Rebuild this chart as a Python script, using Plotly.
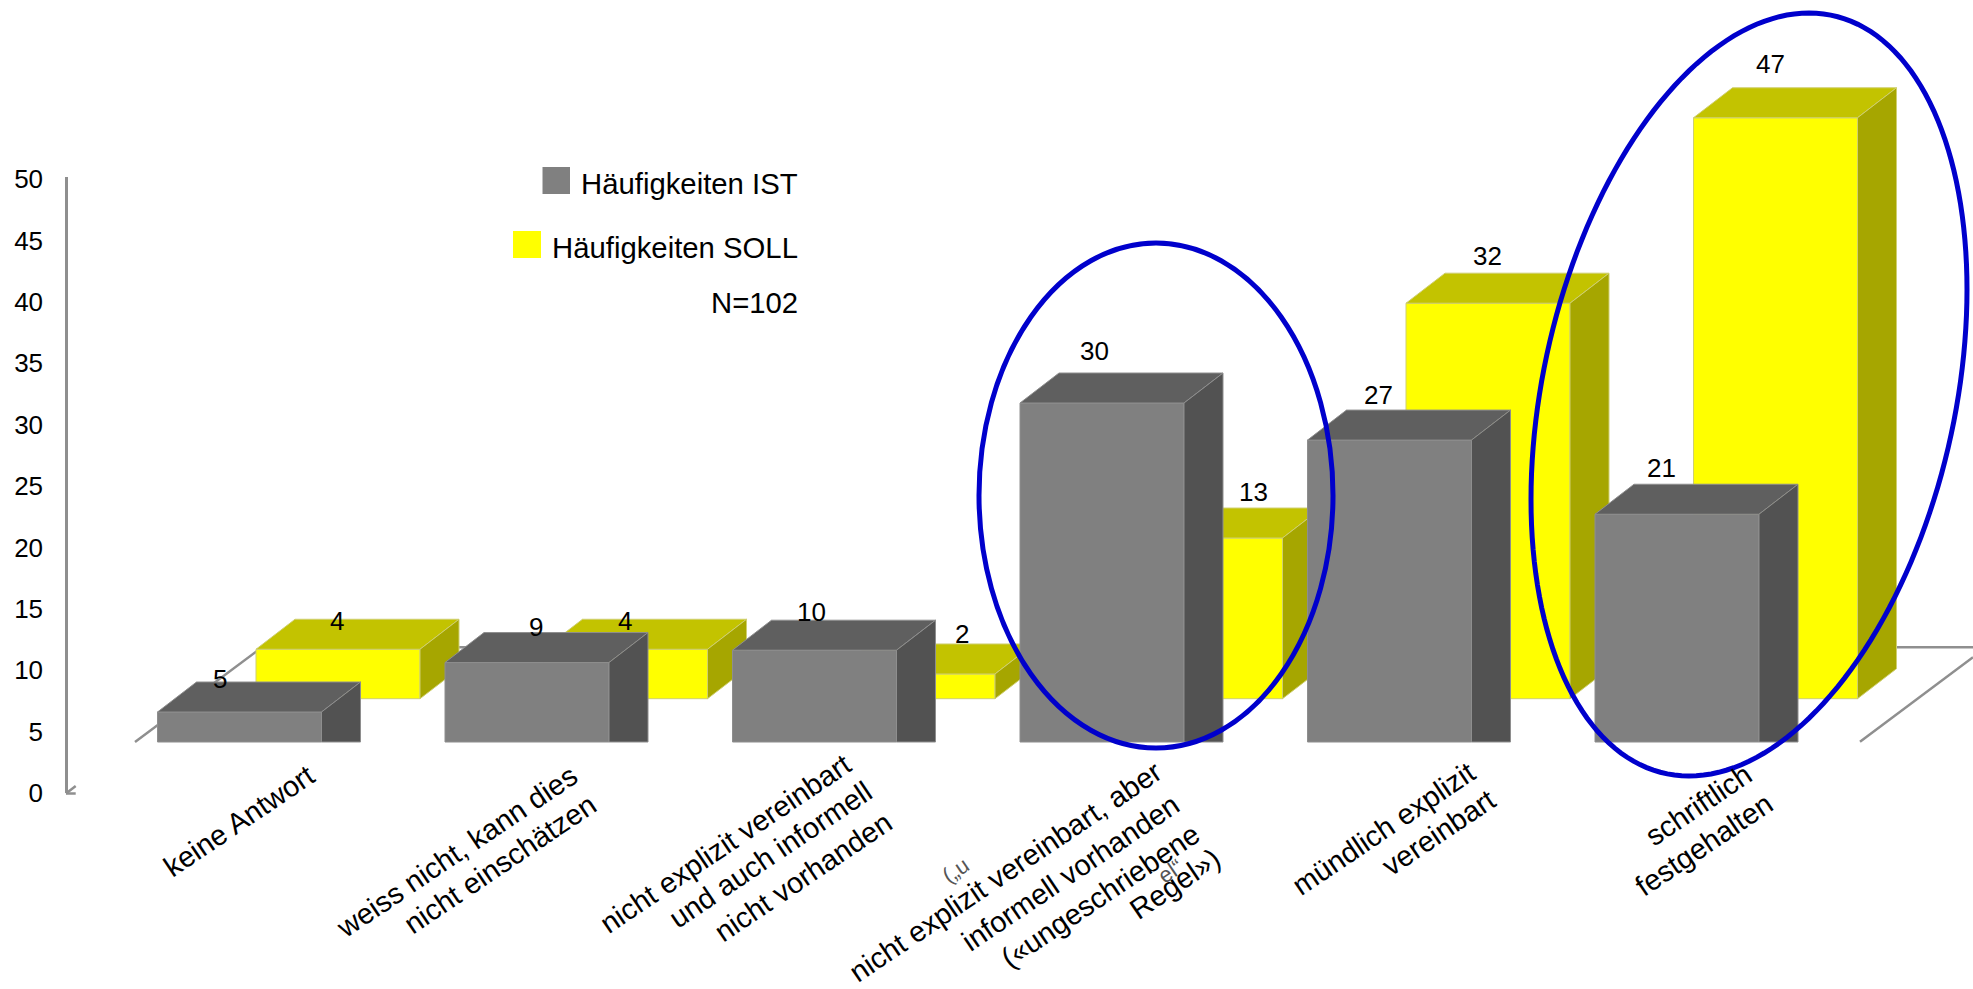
import numpy as np
import plotly.graph_objects as go

W, H = 1973, 989

CATEGORIES = [
    ["keine Antwort"],
    ["weiss nicht, kann dies", "nicht einschätzen"],
    ["nicht explizit vereinbart", "und auch informell", "nicht vorhanden"],
    ["nicht explizit vereinbart, aber", "informell vorhanden", "(«ungeschriebene", "Regel»)"],
    ["mündlich explizit", "vereinbart"],
    ["schriftlich", "festgehalten"],
]
IST = [5, 9, 10, 30, 27, 21]
SOLL = [4, 4, 2, 13, 32, 47]
TICKS = list(range(0, 55, 5))

# Pixel layout of the pseudo-3D scene
CAT_ORIGIN_PX, CAT_STEP_PX = 239.5, 287.5
BAR_W_PX, DEPTH_X_PX, DEPTH_Y_PX = 164.0, 39.0, 30.0
UNIT_PX = 12.36            # bar planes: pixels per value unit
AXIS_UNIT_PX = 12.28       # printed scale: pixels per value unit
IST_ZERO_PX, SOLL_ZERO_PX, AXIS_ZERO_PX = 773.8, 698.7, 793.0
AXIS_TOP_PX = 177.0
AXIS_X_PX = 66.0
SOLL_SHIFT_PX = 98.5       # the SOLL row stands further back and to the right
IST_FLOOR = (IST_ZERO_PX - 742.0) / UNIT_PX   # IST bars are cut off at the floor edge

GREY_FACES = dict(front="#808080", top="#5F5F5F", side="#525252", edge="#8E8E8E")
YELLOW_FACES = dict(front="#FFFF00", top="#C3C300", side="#A6A600", edge="#CFCF70")

# Offsets (px) of each value label from the bar's upper front-left corner
IST_LABEL_SHIFT = [(62.8, 33), (90.7, 35.6), (78.5, 38), (74.8, 52), (71, 45), (66, 46)]
SOLL_LABEL_SHIFT = [(81, 28.6), (81, 28.6), (130.7, 39.7), (134.8, 46), (81, 47), (76.5, 53.5)]

# Centre points (px) of every line of the slanted category captions
CAPTION_CENTRES = [
    [(239, 821)],
    [(456, 851.5), (500, 864)],
    [(725, 844), (770, 855), (803, 877)],
    [(1005, 872), (1070, 872.5), (1100, 895.5), (1174.5, 883.5)],
    [(1383, 828.5), (1438, 832.5)],
    [(1698.5, 805), (1703.5, 845)],
]
CAPTION_ANGLE = -34

FONT = "Liberation Sans"
AXIS_GREY = "#8F8F8F"
RING_BLUE = "#0000CC"


def px(x):
    return x / W


def py(y):
    return 1 - y / H


def faces(values, base, shift_px, flat_side):
    """Outline the three visible faces of every bar as None-separated polygons."""
    half = BAR_W_PX / CAT_STEP_PX / 2
    shift = shift_px / CAT_STEP_PX
    dx = DEPTH_X_PX / CAT_STEP_PX
    dy = DEPTH_Y_PX / UNIT_PX
    out = {"front": ([], []), "top": ([], []), "side": ([], [])}

    def add(name, xs, ys):
        out[name][0].extend(list(xs) + [None])
        out[name][1].extend(list(ys) + [None])

    for i, v in enumerate(values):
        l, r = i + shift - half, i + shift + half
        side_base = base if flat_side else base + dy
        add("front", [l, r, r, l, l], [base, base, v, v, base])
        add("top", [l, r, r + dx, l + dx, l], [v, v, v + dy, v + dy, v])
        add("side", [r, r + dx, r + dx, r, r], [base, side_base, v + dy, v, base])
    return out


def add_series(fig, name, values, base, shift_px, flat_side, colours, yaxis):
    polys = faces(values, base, shift_px, flat_side)
    for face in ("front", "top", "side"):
        xs, ys = polys[face]
        fig.add_trace(go.Scatter(
            x=xs, y=ys, name=name, mode="lines", fill="toself",
            fillcolor=colours[face],
            line=dict(color=colours["edge"], width=1),
            yaxis=yaxis, hoverinfo="name", showlegend=False,
        ))


fig = go.Figure()

# The visible value axis lives on the first subplot
fig.add_trace(go.Scatter(x=[None], y=[None], showlegend=False, hoverinfo="skip"))
add_series(fig, "Häufigkeiten SOLL", SOLL, 0, SOLL_SHIFT_PX, False, YELLOW_FACES, "y2")
add_series(fig, "Häufigkeiten IST", IST, IST_FLOOR, 0, True, GREY_FACES, "y3")

annotations = []


def value_labels(values, shifts, shift_px, yref):
    for i, (v, (dx, dy)) in enumerate(zip(values, shifts)):
        left = i + (shift_px - BAR_W_PX / 2) / CAT_STEP_PX
        annotations.append(dict(
            x=left, y=v, xref="x", yref=yref, text=str(v), showarrow=False,
            xanchor="center", yanchor="middle", xshift=dx, yshift=dy,
            font=dict(family=FONT, size=26, color="black"),
        ))


value_labels(SOLL, SOLL_LABEL_SHIFT, SOLL_SHIFT_PX, "y2")
value_labels(IST, IST_LABEL_SHIFT, 0, "y3")

# Scraps of an older caption line showing behind the fourth caption
for text, (cx, cy) in [("(„u", (955, 870)), ("el“", (1170, 871))]:
    annotations.append(dict(
        x=px(cx), y=py(cy), xref="paper", yref="paper", text=text, showarrow=False,
        xanchor="center", yanchor="middle",
        textangle=CAPTION_ANGLE, font=dict(family=FONT, size=22, color="#555555"),
    ))

for lines, centres in zip(CATEGORIES, CAPTION_CENTRES):
    for text, (cx, cy) in zip(lines, centres):
        annotations.append(dict(
            x=px(cx), y=py(cy), xref="paper", yref="paper", text=text, showarrow=False,
            xanchor="center", yanchor="middle", textangle=CAPTION_ANGLE,
            font=dict(family=FONT, size=29, color="black"),
        ))

# Legend block, right-aligned against a common edge
for text, cy in [("Häufigkeiten IST", 183), ("Häufigkeiten SOLL", 248), ("N=102", 303)]:
    annotations.append(dict(
        x=px(799.5), y=py(cy), xref="paper", yref="paper", text=text, showarrow=False,
        xanchor="right", yanchor="middle",
        font=dict(family=FONT, size=29.3, color="black"),
    ))

shapes = []
for x0, x1, y0, y1, colour in [
    (542.5, 570, 167, 194, GREY_FACES["front"]),
    (513, 541, 231, 258, YELLOW_FACES["front"]),
]:
    shapes.append(dict(type="rect", xref="paper", yref="paper", layer="above",
                       x0=px(x0), x1=px(x1), y0=py(y0), y1=py(y1),
                       fillcolor=colour, line=dict(width=0)))

# Floor outline and the foot of the value axis, behind the bars
for x0, y0, x1, y1 in [
    (135, 742, 262, 647.3),
    (262, 647.3, 1973, 647.3),
    (1860, 741.7, 1973, 657.3),
    (AXIS_X_PX, 793.5, 75.7, 786),
    (AXIS_X_PX, 793.5, 75.7, 793.5),
]:
    shapes.append(dict(type="line", xref="paper", yref="paper", layer="below",
                       x0=px(x0), y0=py(y0), x1=px(x1), y1=py(y1),
                       line=dict(color=AXIS_GREY, width=2.5)))

# Highlight rings around the "informell" and "schriftlich" groups
shapes.append(dict(type="circle", xref="paper", yref="paper", layer="above",
                   x0=px(979), x1=px(1333), y0=py(243), y1=py(748),
                   line=dict(color=RING_BLUE, width=5)))

ring_cx, ring_cy, ring_w, ring_h, ring_skew = 1749.0, 394.5, 218.0, 381.5, 105.0
t = np.linspace(0, 2 * np.pi, 181)
ring_x = ring_cx + ring_w * np.cos(t)
ring_y = ring_cy - (ring_skew * np.cos(t) + np.sqrt(ring_h**2 - ring_skew**2) * np.sin(t))
path = "M " + " L ".join(f"{px(a):.5f},{py(b):.5f}" for a, b in zip(ring_x, ring_y)) + " Z"
shapes.append(dict(type="path", path=path, xref="paper", yref="paper", layer="above",
                   line=dict(color=RING_BLUE, width=5)))

hidden_y = dict(visible=False, domain=[0, 1], anchor="x", fixedrange=True, automargin=False)

fig.update_layout(
    width=W, height=H,
    margin=dict(l=0, r=0, t=0, b=0, autoexpand=False),
    paper_bgcolor="white", plot_bgcolor="rgba(0,0,0,0)",
    showlegend=False,
    font=dict(family=FONT, color="black"),
    annotations=annotations,
    shapes=shapes,
    xaxis=dict(
        visible=False, domain=[0, 1], fixedrange=True, automargin=False,
        range=[-CAT_ORIGIN_PX / CAT_STEP_PX, (W - CAT_ORIGIN_PX) / CAT_STEP_PX],
    ),
    yaxis=dict(
        domain=[py(AXIS_ZERO_PX), py(AXIS_TOP_PX)],
        range=[0, (AXIS_ZERO_PX - AXIS_TOP_PX) / AXIS_UNIT_PX],
        anchor="free", position=px(AXIS_X_PX), side="left", automargin=False,
        tickmode="array", tickvals=TICKS, ticktext=[str(v) for v in TICKS],
        ticks="", ticklabelstandoff=17,
        showgrid=False, zeroline=False, fixedrange=True,
        showline=True, linecolor=AXIS_GREY, linewidth=2.5,
        tickfont=dict(family=FONT, size=26, color="black"),
    ),
    yaxis2=dict(hidden_y, range=[(SOLL_ZERO_PX - H) / UNIT_PX, SOLL_ZERO_PX / UNIT_PX]),
    yaxis3=dict(hidden_y, range=[(IST_ZERO_PX - H) / UNIT_PX, IST_ZERO_PX / UNIT_PX]),
)

fig.write_html("out.html", config=dict(displayModeBar=False))
